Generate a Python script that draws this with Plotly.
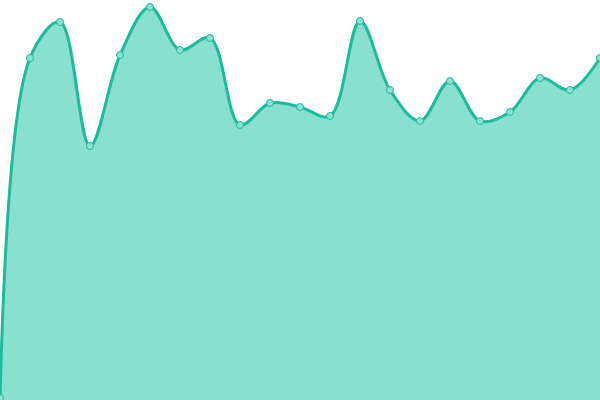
import plotly.graph_objects as go

x_values = list(range(21))
y_values = [2, 342, 378, 254, 345, 393, 350, 362, 275, 297, 293, 284, 379, 310, 279, 319, 279, 288, 322, 310, 342]

fig = go.Figure()
fig.add_trace(go.Scatter(
    x=x_values, y=y_values,
    mode="lines+markers",
    line=dict(color="#1abc9c", width=3, shape="spline", smoothing=1.0),
    fill="tozeroy",
    fillcolor="#89e0cf",
    marker=dict(size=7, color="#8ce3d1", line=dict(color="#1abc9c", width=1)),
    hoverinfo="skip",
    cliponaxis=True,
))
fig.update_layout(
    width=600, height=400,
    margin=dict(l=0, r=0, t=0, b=0),
    paper_bgcolor="white", plot_bgcolor="white",
    showlegend=False,
    xaxis=dict(range=[0, 20], visible=False, fixedrange=True),
    yaxis=dict(range=[0, 400], visible=False, fixedrange=True),
)
fig.write_html(
    "out.html",
    config={"displayModeBar": False},
    post_script="document.body.style.margin='0';document.body.style.overflow='hidden';",
)
